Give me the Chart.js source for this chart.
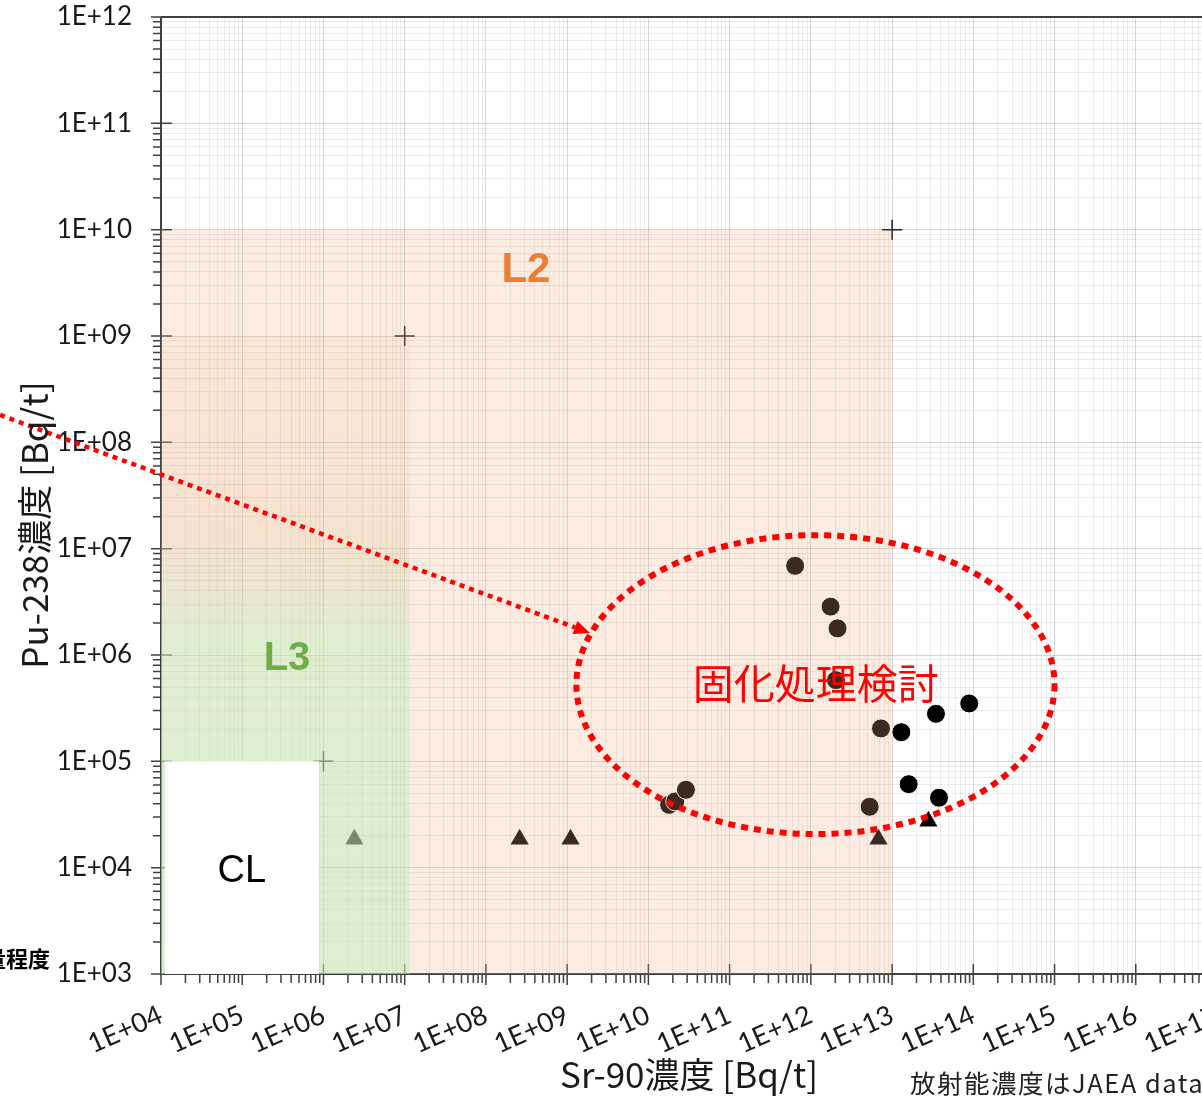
<!DOCTYPE html>
<html>
<head>
<meta charset="utf-8">
<script src="https://cdn.jsdelivr.net/npm/chart.js@4.4.1/dist/chart.umd.min.js"></script>
<style>
  html, body { margin: 0; padding: 0; background: #fff; overflow: hidden; }
  canvas { display: block; }
</style>
</head>
<body>
<canvas id="chart" width="1230" height="1097"></canvas>
<script>
// decade tick labels
const xTickLabels = ["1E+04", "1E+05", "1E+06", "1E+07", "1E+08", "1E+09", "1E+10",
  "1E+11", "1E+12", "1E+13", "1E+14", "1E+15", "1E+16", "1E+17"];
const yTickLabels = ["1E+03", "1E+04", "1E+05", "1E+06", "1E+07", "1E+08", "1E+09",
  "1E+10", "1E+11", "1E+12"];

// measured samples [Bq/t]
const sampleSr90 = [6.4e11, 1.75e12, 2.13e12, 2.04e12, 7.3e12, 1.3e13, 3.47e13, 8.9e13,
  1.6e13, 3.78e13, 5.3e12, 1.8e10, 2.14e10, 2.9e10];
const samplePu238 = [6.9e6, 2.85e6, 1.78e6, 5.8e5, 2.04e5, 1.88e5, 2.8e5, 3.5e5,
  6.1e4, 4.55e4, 3.74e4, 3.9e4, 4.2e4, 5.4e4];

// Pu-238 below detection limit
const ndSr90 = [2.4e6, 2.6e8, 1.1e9, 6.8e12, 2.8e13];
const ndPu238 = [1.85e4, 1.85e4, 1.85e4, 1.85e4, 2.73e4];

// category limit corners
const limitSr90 = [1e6, 1e7, 1e13];
const limitPu238 = [1e5, 1e9, 1e10];

// category boxes: [xMin, xMax, yMin, yMax]
const boxL2 = [1e4, 1e13, 1e3, 1e10];
const boxL3 = [1e4, 1.16e7, 1e3, 1e9];
const boxCL = [1.12e4, 8.8e5, 1e3, 1e5];

// label anchors: [x, y]
const posL2 = [3.11e8, 4.11e9];
const posL3 = [3.56e5, 9.2e5];
const posCL = [9.9e4, 9.2e3];
const posStudy = [1.15e12, 5.46e5];

// dotted ellipse bounds and arrow
const ellipseBox = [1.3e9, 1.0e15, 2.07e4, 1.34e7];
const arrowFrom = [80, 1.95e8];
const arrowTo = [1.91e9, 1.61e6];

const xDecades = xTickLabels.map(Number);
const yDecades = yTickLabels.map(Number);
const isDecade = v => xDecades.includes(v) || yDecades.includes(v);

function logTicks(decades) {
  const ticks = [];
  decades.forEach((d, i) => {
    if (i === decades.length - 1) { ticks.push({ value: d }); return; }
    for (let k = 1; k < 10; k++) ticks.push({ value: d * k });
  });
  return ticks;
}

const toPoints = (xs, ys) => xs.map((v, i) => ({ x: v, y: ys[i] }));

function px(chart, xv, yv) {
  return [chart.scales.x.getPixelForValue(xv), chart.scales.y.getPixelForValue(yv)];
}

function boxRect(chart, b) {
  const [x0, y0] = px(chart, b[0], b[3]);
  const [x1, y1] = px(chart, b[1], b[2]);
  return [x0, y0, x1 - x0, y1 - y0];
}

function label(ctx, chart, text, pos, font, color) {
  const [x, y] = px(chart, pos[0], pos[1]);
  ctx.font = font;
  ctx.fillStyle = color;
  ctx.textAlign = 'center';
  ctx.textBaseline = 'middle';
  ctx.fillText(text, x, y);
}

// axis lines and tick marks
function drawAxes(chart) {
  const { ctx, chartArea: a, scales: { x, y } } = chart;
  ctx.save();
  ctx.strokeStyle = '#404040';
  ctx.lineWidth = 2;
  ctx.beginPath();
  ctx.moveTo(a.left, a.top); ctx.lineTo(a.right, a.top);
  ctx.moveTo(a.left, a.top); ctx.lineTo(a.left, a.bottom); ctx.lineTo(a.right, a.bottom);
  ctx.stroke();
  ctx.lineWidth = 1.5;
  ctx.beginPath();
  x.ticks.forEach(t => {
    const p = x.getPixelForValue(t.value);
    const major = isDecade(t.value);
    ctx.moveTo(p, major ? a.bottom - 10 : a.bottom);
    ctx.lineTo(p, a.bottom + (major ? 11 : 9));
  });
  y.ticks.forEach(t => {
    const p = y.getPixelForValue(t.value);
    const major = isDecade(t.value);
    ctx.moveTo(a.left - (major ? 10 : 8), p);
    ctx.lineTo(major ? a.left + 11 : a.left, p);
  });
  ctx.stroke();
  ctx.restore();
}

// category zones, labels and the study ellipse
function drawZones(chart) {
  const { ctx } = chart;
  ctx.save();

  ctx.fillStyle = 'rgba(237,171,131,0.245)';
  ctx.fillRect(...boxRect(chart, boxL2));

  const r3 = boxRect(chart, boxL3);
  const g = ctx.createLinearGradient(0, r3[1], 0, r3[1] + r3[3]);
  g.addColorStop(0, 'rgba(240,170,120,0.06)');
  g.addColorStop(0.2, 'rgba(240,170,120,0.12)');
  g.addColorStop(0.34, 'rgba(214,205,150,0.25)');
  g.addColorStop(0.48, 'rgba(188,241,187,0.45)');
  g.addColorStop(1, 'rgba(188,241,187,0.5)');
  ctx.fillStyle = g;
  ctx.fillRect(...r3);

  ctx.fillStyle = '#fff';
  ctx.fillRect(...boxRect(chart, boxCL));

  label(ctx, chart, 'L2', posL2, 'bold 42px "Liberation Sans"', '#ED7D31');
  label(ctx, chart, 'L3', posL3, 'bold 40px "Liberation Sans"', '#70AD47');
  label(ctx, chart, 'CL', posCL, '38px "Liberation Sans"', '#000');

  // dotted ellipse
  const [ex0, ey0] = px(chart, ellipseBox[0], ellipseBox[3]);
  const [ex1, ey1] = px(chart, ellipseBox[1], ellipseBox[2]);
  ctx.strokeStyle = '#ff0000';
  ctx.lineWidth = 6;
  ctx.setLineDash([7, 6]);
  ctx.beginPath();
  ctx.ellipse((ex0 + ex1) / 2, (ey0 + ey1) / 2, (ex1 - ex0) / 2, (ey1 - ey0) / 2, 0, 0, Math.PI * 2);
  ctx.stroke();

  // dotted arrow
  const [ax0, ay0] = px(chart, arrowFrom[0], arrowFrom[1]);
  const [ax1, ay1] = px(chart, arrowTo[0], arrowTo[1]);
  const ang = Math.atan2(ay1 - ay0, ax1 - ax0);
  const head = 16;
  ctx.lineWidth = 4.5;
  ctx.setLineDash([5, 5]);
  ctx.beginPath();
  ctx.moveTo(ax0, ay0);
  ctx.lineTo(ax1 - head * Math.cos(ang), ay1 - head * Math.sin(ang));
  ctx.stroke();
  ctx.setLineDash([]);
  ctx.fillStyle = '#ff0000';
  ctx.beginPath();
  ctx.moveTo(ax1, ay1);
  ctx.lineTo(ax1 - head * Math.cos(ang) + 7 * Math.sin(ang), ay1 - head * Math.sin(ang) - 7 * Math.cos(ang));
  ctx.lineTo(ax1 - head * Math.cos(ang) - 7 * Math.sin(ang), ay1 - head * Math.sin(ang) + 7 * Math.cos(ang));
  ctx.closePath();
  ctx.fill();

  label(ctx, chart, '固化処理検討', posStudy, '41px "Noto Sans CJK JP"', '#ff0000');

  // y axis title
  ctx.save();
  ctx.translate(35, 525);
  ctx.rotate(-Math.PI / 2);
  ctx.font = '35px "Noto Sans CJK JP"';
  ctx.fillStyle = '#1a1a1a';
  ctx.textAlign = 'center';
  ctx.textBaseline = 'middle';
  ctx.fillText('Pu-238濃度 [Bq/t]', 0, 0);
  ctx.restore();

  // side notes
  ctx.textAlign = 'left';
  ctx.textBaseline = 'middle';
  ctx.fillStyle = '#000';
  ctx.font = 'bold 22px "Noto Sans CJK JP"';
  ctx.fillText('量程度', -16, 959);
  ctx.fillStyle = '#222';
  ctx.font = '25.5px "Noto Sans CJK JP"';
  ctx.letterSpacing = '1.5px';
  ctx.fillText('放射能濃度はJAEA dataより', 910, 1083);
  ctx.letterSpacing = '0px';

  ctx.restore();
}

const decor = {
  id: 'decor',
  beforeDatasetsDraw: drawAxes,
  afterDatasetsDraw: drawZones
};

const gridColor = c => isDecade(c.tick.value) ? 'rgba(0,0,0,0.16)' : 'rgba(0,0,0,0.075)';

new Chart(document.getElementById('chart'), {
  type: 'scatter',
  data: {
    datasets: [
      {
        label: 'samples',
        data: toPoints(sampleSr90, samplePu238),
        pointStyle: 'circle',
        pointRadius: 9.5,
        backgroundColor: '#000',
        borderColor: '#fff',
        borderWidth: 1
      },
      {
        label: 'below detection',
        data: toPoints(ndSr90, ndPu238),
        pointStyle: 'triangle',
        pointRadius: 10.5,
        backgroundColor: '#000',
        borderWidth: 0
      },
      {
        label: 'limits',
        data: toPoints(limitSr90, limitPu238),
        pointStyle: 'cross',
        pointRadius: 10,
        borderColor: '#1a1a1a',
        borderWidth: 1.5
      }
    ]
  },
  options: {
    animation: false,
    responsive: false,
    devicePixelRatio: 1,
    layout: { padding: { left: 0, top: 17, right: 13, bottom: 0 } },
    plugins: { legend: { display: false }, tooltip: { enabled: false } },
    scales: {
      x: {
        type: 'logarithmic',
        position: 'bottom',
        min: xDecades[0],
        max: xDecades[xDecades.length - 1],
        afterBuildTicks: s => { s.ticks = logTicks(xDecades); },
        afterFit: s => { s.height = 123; s.paddingLeft = 0; s.paddingRight = 0; },
        border: { display: false },
        grid: { color: gridColor, lineWidth: 1, drawTicks: false },
        ticks: {
          autoSkip: false,
          minRotation: 24,
          maxRotation: 24,
          padding: 25,
          color: '#1a1a1a',
          font: { family: 'Lato', size: 27 },
          callback: v => { const i = xDecades.indexOf(v); return i < 0 ? '' : xTickLabels[i]; }
        },
        title: {
          display: true,
          text: 'Sr-90濃度 [Bq/t]',
          color: '#1a1a1a',
          font: { family: 'Noto Sans CJK JP', size: 35 },
          padding: { top: 0, bottom: 1 }
        }
      },
      y: {
        type: 'logarithmic',
        min: yDecades[0],
        max: yDecades[yDecades.length - 1],
        afterBuildTicks: s => { s.ticks = logTicks(yDecades); },
        afterFit: s => { s.width = 161; s.paddingTop = 0; s.paddingBottom = 0; },
        border: { display: false },
        grid: { color: gridColor, lineWidth: 1, drawTicks: false },
        ticks: {
          autoSkip: false,
          padding: 29,
          color: '#1a1a1a',
          font: { family: 'Lato', size: 26 },
          callback: v => { const i = yDecades.indexOf(v); return i < 0 ? '' : yTickLabels[i]; }
        }
      }
    }
  },
  plugins: [decor]
});
</script>
</body>
</html>
